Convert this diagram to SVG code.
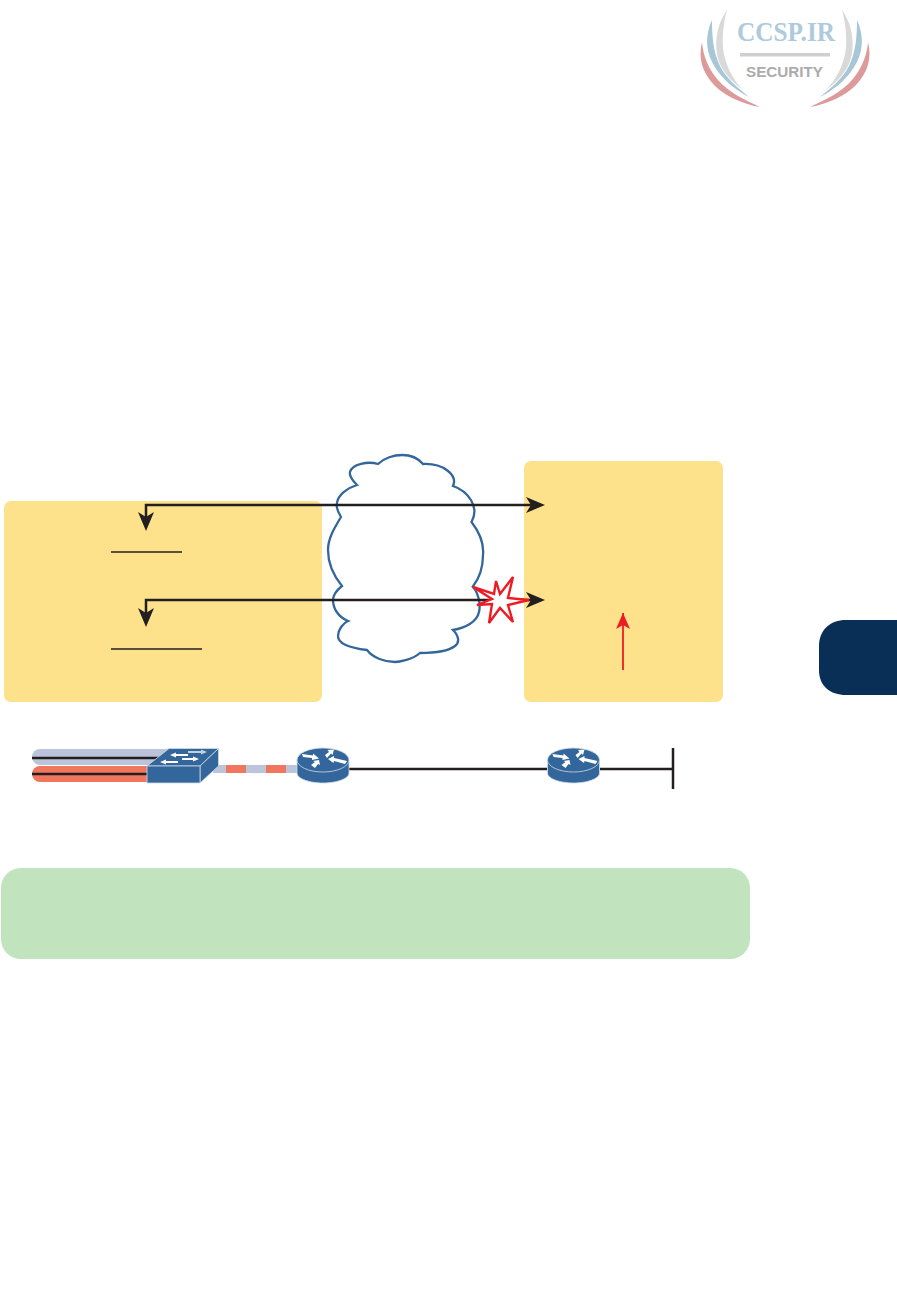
<svg xmlns="http://www.w3.org/2000/svg" width="897" height="1314" viewBox="0 0 897 1314">
<style>
.panel{fill:#fde28b}
.dev{fill:#33679c;stroke:#cfdbe8;stroke-width:.8;stroke-linejoin:round}
.wire{fill:none;stroke:#231f20;stroke-width:2.500}
.thin{fill:none;stroke:#231f20;stroke-width:1.500}
.glyph{fill:#fff}
</style>
<defs>
<marker id="ar" markerUnits="userSpaceOnUse" markerWidth="18" markerHeight="16" refX="16" refY="7" orient="auto"><path d="M0 0L16 7L0 14L4 7Z" fill="#ed1c24"/></marker>
<g id="router-shape">
<path class="dev" d="M-26 0V13C-26 19-13 23 0 23S26 19 26 13V0Z"/>
<ellipse class="dev" cx="0" cy="0" rx="26" ry="12"/>
<path class="glyph" d="M-21 -6L-10 -4.500L-10 -6.500L-4 -1.500L-11 0L-11 -2L-20 -3Z"/>
<path class="glyph" d="M2 -5L6 -8L4.500 -10L11 -10.500L9.500 -5L8 -6.500L4 -2Z"/>
<path class="glyph" d="M5 -1L11 -4L11 -2L24 1L22 4L11 1L10.500 3Z"/>
<path class="glyph" d="M-4 0L-3 5L-5 4L-8 8L-12 5L-8 2L-10 1Z"/>
</g>
</defs>

<g id="logo">
<path d="M727 10C716 25 712 50 722 68C728 78 735 84 743 90C733 80 725 65 723 48C722 35 724 20 727 10Z" fill="#d9d9d9"/>
<path d="M842 10C853 25 857 50 847 68C841 78 834 84 826 90C836 80 844 65 846 48C847 35 845 20 842 10Z" fill="#d9d9d9"/>
<path d="M712 20C705 35 706 50 712 62C720 78 735 90 749 97C738 88 726 78 720 66C713 52 712 35 712 20Z" fill="#a7c6d6"/>
<path d="M857 20C864 35 863 50 857 62C849 78 834 90 820 97C831 88 843 78 849 66C856 52 857 35 857 20Z" fill="#a7c6d6"/>
<path d="M702 42C698 58 702 72 714 85C725 96 742 104 760 107C745 100 728 92 718 80C709 70 703 56 702 42Z" fill="#dc9a9a"/>
<path d="M868 42C872 58 868 72 856 85C845 96 828 104 810 107C825 100 842 92 852 80C861 70 867 56 868 42Z" fill="#dc9a9a"/>
<text x="737" y="41" font-family="'Liberation Serif',serif" font-size="27" font-weight="bold" fill="#adcbdc" textLength="98" lengthAdjust="spacingAndGlyphs">CCSP.IR</text>
<rect x="740" y="53" width="90" height="3.500" fill="#cfcfcf"/>
<text x="746" y="76.500" font-family="'Liberation Sans',sans-serif" font-size="14.500" font-weight="bold" fill="#ababab" textLength="77" lengthAdjust="spacingAndGlyphs">SECURITY</text>
</g>

<g id="tab"><path d="M897 620H846C830 620 819 630 819 646V670C819 686 830 695 846 695H897Z" fill="#0a2f57"/></g>

<g id="panel-left"><rect class="panel" x="4" y="501" width="318" height="201" rx="7"/></g>
<g id="panel-right"><rect class="panel" x="524" y="461" width="199" height="241" rx="7"/></g>

<g id="cloud"><path fill="#fff" stroke="#33679c" stroke-width="2.300" stroke-linejoin="miter" d="M378 464C384 458 394 455 402 455C410 455 418 458 423 464C443 463 458 475 453 486C468 491 480 507 471.500 522C480 533 484 545 483 555C483 570 478 580 472.700 586.700C478 592 481 604 479 612C477 622 465 628 453 630C460 637 459 643 455 646C447 652 432 653 420 653C412 660 398 662 395 662C385 662 373 658 367 650C350 648 338 644 338 636C338 630 343 623 348 621C338 617 333 608 333 600C333 595 337 590 342 586C333 575 328 562 328 550C328 538 335 527 341 517C338 512 336 506 337 503C338 495 347 488 357 485C352 480 349 476 350 472C352 464 368 461 378 464Z"/></g>

<g id="connectors">
<path class="wire" d="M146 525V505H535"/>
<path class="wire" d="M146 621V600H535"/>
<path d="M138 512L146 517L154 512L146 531Z" fill="#231f20"/>
<path d="M138 608L146 613L154 608L146 627Z" fill="#231f20"/>
<path d="M526 497L545 505L526 513L531 505Z" fill="#231f20"/>
<path d="M526 592L545 600L526 608L531 600Z" fill="#231f20"/>
<path class="thin" d="M111 552H182M111 649H202"/>
<path d="M623 670V613" fill="none" stroke="#ed1c24" stroke-width="1.800" marker-end="url(#ar)"/>
<path d="M349 769H547M600 769H673" class="wire"/>
<path d="M673 748V789" class="wire"/>
</g>

<g id="burst"><path fill="#fff" stroke="#ed1c24" stroke-width="2.400" stroke-linejoin="miter" d="M473 587L494 594L496 581L500 594L513 577L508 598L529 600L508 605L513 622L500 608L489 623L492 604L477 605L492 599Z"/></g>

<g id="vlan-links">
<path d="M170 749H40A8 8 0 0 0 40 765H170Z" fill="#bbc4db"/>
<path d="M170 766H40A8 8 0 0 0 40 782H170Z" fill="#f1765e"/>
<path class="wire" d="M32 758H160M32 774H148"/>
<rect x="213" y="765" width="84" height="8" fill="#bbc4db"/>
<rect x="226" y="765" width="20" height="8" fill="#f1765e"/>
<rect x="266" y="765" width="20" height="8" fill="#f1765e"/>
</g>

<g id="switch">
<path class="dev" d="M147 766L169 748.500H218.500L200 766Z"/>
<path class="dev" d="M200 766L218.500 748.500V766L200 783Z"/>
<rect class="dev" x="147" y="766" width="53" height="17"/>
<path class="glyph" d="M170 755L176 752.500V754H188V756H176V757.500Z"/>
<path class="glyph" d="M207 752L201 749.500V751H188V753H201V754.500Z" opacity=".7"/>
<path class="glyph" d="M160 762L166 759.500V761H178V763H166V764.500Z"/>
<path class="glyph" d="M199 759L193 756.500V758H182V760H193V761.500Z"/>
</g>

<g id="router-1"><use href="#router-shape" x="323" y="760"/></g>
<g id="router-2"><use href="#router-shape" x="573.500" y="760"/></g>

<g id="note"><rect x="1" y="868" width="749" height="91" rx="20" fill="#c1e4bf"/></g>
</svg>
